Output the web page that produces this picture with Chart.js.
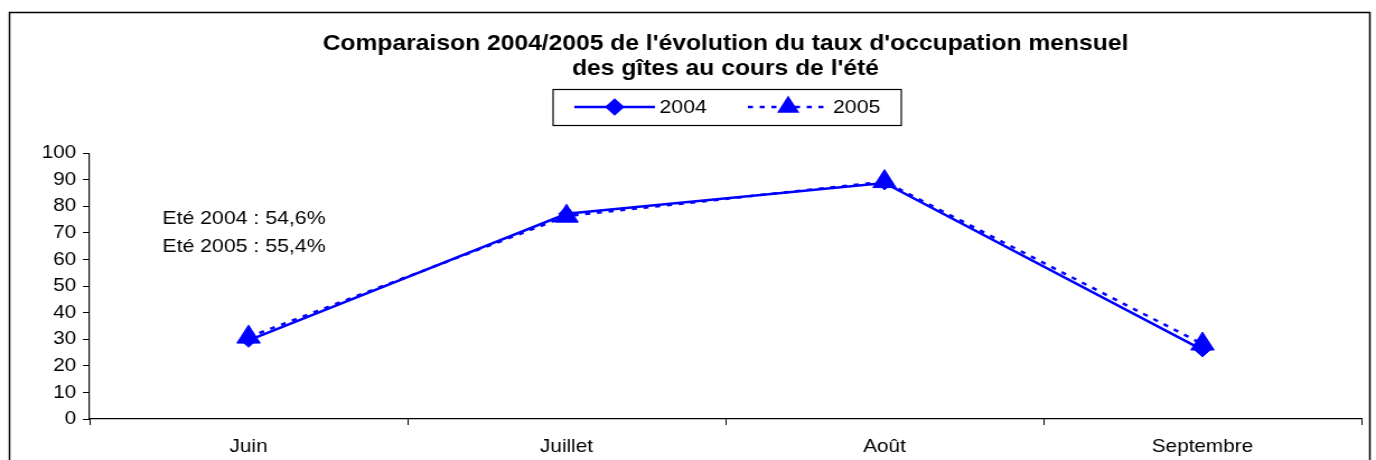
<!DOCTYPE html>
<html>
<head>
<meta charset="utf-8">
<script src="https://cdn.jsdelivr.net/npm/chart.js@4"></script>
<style>
  body { margin: 0; background: #fff; }
</style>
</head>
<body>
<!-- le graphique d'origine est légèrement étiré en largeur -->
<canvas id="graph" width="1229" height="460" style="width:1376px;height:460px;display:block"></canvas>
<script>
// mois de l'été
const mois = ['Juin', 'Juillet', 'Août', 'Septembre'];
// taux d'occupation (%)
const taux2004 = [29.6, 77.2, 88.8, 26.0];
const taux2005 = [30.8, 76.3, 89.3, 28.2];
const notes = ['Eté 2004 : 54,6%', 'Eté 2005 : 55,4%'];
const titre = ["Comparaison 2004/2005 de l'évolution du taux d'occupation mensuel", "des gîtes au cours de l'été"];

const bleu = '#0000FF';
const police = 'Arial, "Liberation Sans", sans-serif';

// cadre, légende et texte libre
const decor = {
    id: 'decor',
    afterDraw(chart) {
        const ctx = chart.ctx;
        ctx.save();
        // cadre
        ctx.strokeStyle = '#000';
        ctx.lineWidth = 1.5;
        ctx.beginPath();
        ctx.moveTo(8.5, 470);
        ctx.lineTo(8.5, 12.5);
        ctx.lineTo(1223.5, 12.5);
        ctx.lineTo(1223.5, 470);
        ctx.stroke();

        // légende
        ctx.lineWidth = 1.2;
        ctx.strokeRect(494, 89.5, 311, 36);
        ctx.font = '19px ' + police;
        ctx.textBaseline = 'middle';
        const y = 107;
        const tailles = [7, 9];
        chart.data.datasets.forEach((ds, i) => {
            const x0 = i === 0 ? 513 : 668;
            ctx.strokeStyle = ds.borderColor;
            ctx.lineWidth = ds.borderWidth;
            ctx.setLineDash(ds.borderDash || []);
            ctx.beginPath();
            ctx.moveTo(x0, y);
            ctx.lineTo(x0 + 72, y);
            ctx.stroke();
            ctx.setLineDash([]);
            ctx.fillStyle = ds.backgroundColor;
            Chart.helpers.drawPoint(ctx, {
                pointStyle: ds.pointStyle,
                radius: tailles[i],
                rotation: 0,
                borderWidth: 1
            }, x0 + 36, y);
            ctx.fillStyle = '#000';
            ctx.fillText(ds.label, x0 + 76, y + 1);
        });

        // moyennes de l'été
        ctx.font = '19px ' + police;
        ctx.fillStyle = '#000';
        ctx.fillText(notes[0], 145, 219);
        ctx.fillText(notes[1], 145, 247);
        ctx.restore();
    }
};

new Chart(document.getElementById('graph'), {
    type: 'line',
    data: {
        labels: mois,
        datasets: [{
            label: '2004',
            data: taux2004,
            borderColor: bleu,
            backgroundColor: bleu,
            borderWidth: 2.5,
            pointStyle: 'rectRot',
            pointRadius: 7,
            pointBorderWidth: 1,
            fill: false,
            tension: 0
        }, {
            label: '2005',
            data: taux2005,
            borderColor: bleu,
            backgroundColor: bleu,
            borderWidth: 2.5,
            borderDash: [4.5, 6],
            pointStyle: 'triangle',
            pointRadius: 12,
            pointBorderWidth: 1,
            fill: false,
            tension: 0
        }]
    },
    options: {
        responsive: false,
        animation: false,
        layout: { padding: { left: 0, right: 9, top: 0, bottom: 2 } },
        plugins: {
            legend: { display: false },
            tooltip: { enabled: false },
            title: {
                display: true,
                fullSize: false,
                text: titre,
                color: '#000',
                font: { family: police, size: 22, weight: 'bold', lineHeight: 1.14 },
                padding: { top: 31, bottom: 72 }
            }
        },
        scales: {
            x: {
                offset: true,
                afterFit: (s) => { s.height = 39; },
                grid: { offset: true, drawOnChartArea: false, color: '#000', tickLength: 6, tickColor: '#000' },
                border: { color: '#000', width: 1.2 },
                ticks: { color: '#000', font: { family: police, size: 18.5 }, padding: 11 }
            },
            y: {
                min: 0,
                max: 100,
                afterFit: (s) => { s.width = 80; },
                ticks: { stepSize: 10, color: '#000', font: { family: police, size: 18.5 }, padding: 6 },
                grid: { drawOnChartArea: false, color: '#000', tickLength: 6, tickColor: '#000' },
                border: { color: '#000', width: 1.2 }
            }
        }
    },
    plugins: [decor]
});
</script>
</body>
</html>
